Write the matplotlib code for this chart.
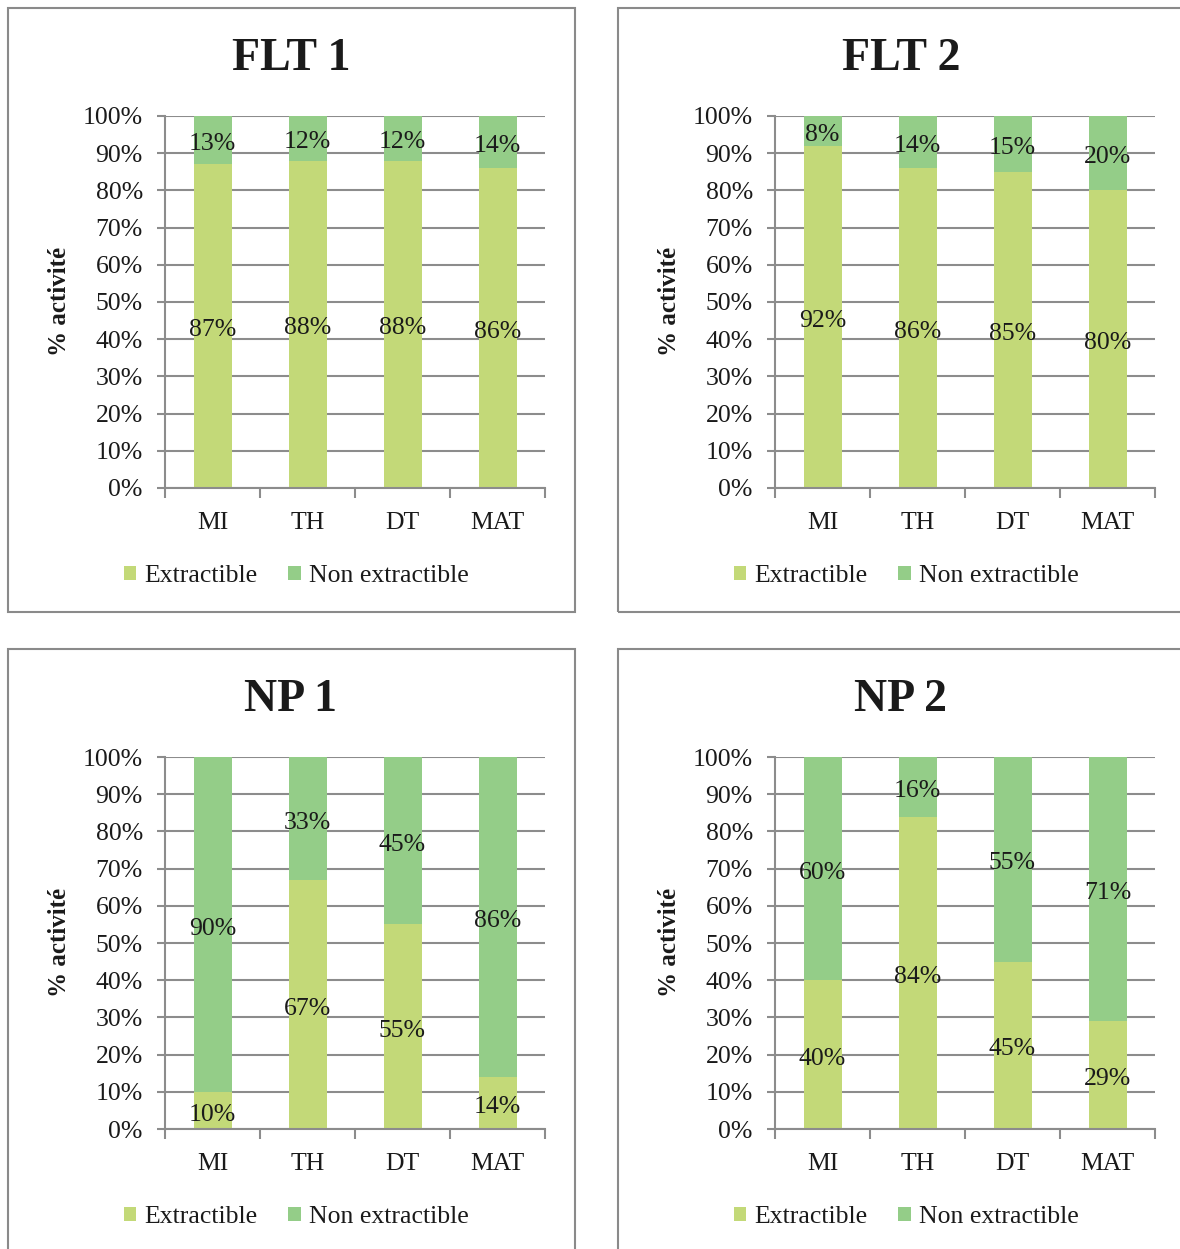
import matplotlib.pyplot as plt
from matplotlib.patches import Rectangle

plt.rcParams['font.family'] = ['Liberation Serif', 'DejaVu Serif']

# données
categories = ['MI', 'TH', 'DT', 'MAT']
titles = ['FLT 1', 'FLT 2', 'NP 1', 'NP 2']
flt1_ext = [87, 88, 88, 86]
flt1_non = [13, 12, 12, 14]
flt2_ext = [92, 86, 85, 80]
flt2_non = [8, 14, 15, 20]
np1_ext = [10, 67, 55, 14]
np1_non = [90, 33, 45, 86]
np2_ext = [40, 84, 45, 29]
np2_non = [60, 16, 55, 71]
yticks = list(range(0, 101, 10))

C_EXT = '#c3d978'
C_NON = '#94cd88'
C_GRID = '#8c8c8c'
C_TXT = '#1a1a1a'
FS = 18.5

W, H = 1180, 1249
fig = plt.figure(figsize=(W / 100, H / 100), dpi=100)


def px(x, y):
    """pixels (origine en haut à gauche) -> coordonnées figure"""
    return x / W, 1 - y / H


def draw_panel(title, ext, non, dx, dy):
    # cadre du graphique
    x0, y0 = px(8 + dx, 8 + dy)
    fig.add_artist(Rectangle((x0, y0 - 604 / H), 567 / W, 604 / H,
                             transform=fig.transFigure, fill=False,
                             edgecolor='#8a8a8a', linewidth=1.5))

    left, top = px(165 + dx, 116 + dy)
    ax = fig.add_axes([left, top - 372 / H, 380 / W, 372 / H])
    x = range(len(categories))
    b1 = ax.bar(x, ext, width=0.4, color=C_EXT, zorder=2)
    b2 = ax.bar(x, non, width=0.4, bottom=ext, color=C_NON, zorder=2)
    labels = ax.bar_label(b1, labels=[f'{v}%' for v in ext],
                          label_type='center', fontsize=FS, color=C_TXT)
    labels += ax.bar_label(b2, labels=[f'{v}%' for v in non],
                           label_type='center', fontsize=FS, color=C_TXT)
    # Excel place les étiquettes un peu sous le centre
    for t in labels:
        t.xyann = (0, -3)

    ax.set_xlim(-0.5, len(categories) - 0.5)
    ax.set_ylim(0, 100)
    ax.set_yticks(yticks)
    ax.set_yticklabels([f'{v}%' for v in yticks])
    ax.set_xticks(list(x))
    ax.set_xticklabels(categories)
    ax.set_xticks([i - 0.5 for i in range(len(categories) + 1)], minor=True)
    ax.tick_params(axis='x', which='major', length=0, pad=17,
                   labelsize=FS, labelcolor=C_TXT)
    ax.tick_params(axis='x', which='minor', length=7, width=1.5,
                   color=C_GRID, direction='out')
    ax.tick_params(axis='y', length=6, width=1.5, color=C_GRID, pad=10,
                   labelsize=FS, labelcolor=C_TXT)
    ax.yaxis.grid(True, color=C_GRID, linewidth=1.5, zorder=0)
    ax.set_axisbelow(True)
    for s in ['top', 'right']:
        ax.spines[s].set_visible(False)
    for s in ['left', 'bottom']:
        ax.spines[s].set_color(C_GRID)
        ax.spines[s].set_linewidth(1.5)

    tx, ty = px(291 + dx, 59 + dy)
    fig.text(tx, ty, title, fontsize=33, fontweight='bold', color=C_TXT,
             ha='center', va='center')
    lx, ly = px(59 + dx, 301 + dy)
    fig.text(lx, ly, '% activité', fontsize=18, fontweight='bold',
             color=C_TXT, rotation=90, ha='center', va='center')

    gx, gy = px(296 + dx, 576 + dy)
    fig.legend([b1, b2], ['Extractible', 'Non extractible'], loc='center',
               bbox_to_anchor=(gx, gy), ncol=2, frameon=False,
               fontsize=FS, handlelength=0.5, handleheight=0.5,
               handletextpad=0.3, columnspacing=1.2, labelcolor=C_TXT)


draw_panel(titles[0], flt1_ext, flt1_non, 0, 0)
draw_panel(titles[1], flt2_ext, flt2_non, 610, 0)
draw_panel(titles[2], np1_ext, np1_non, 0, 641)
draw_panel(titles[3], np2_ext, np2_non, 610, 641)

fig.savefig('out.png', dpi=100)
